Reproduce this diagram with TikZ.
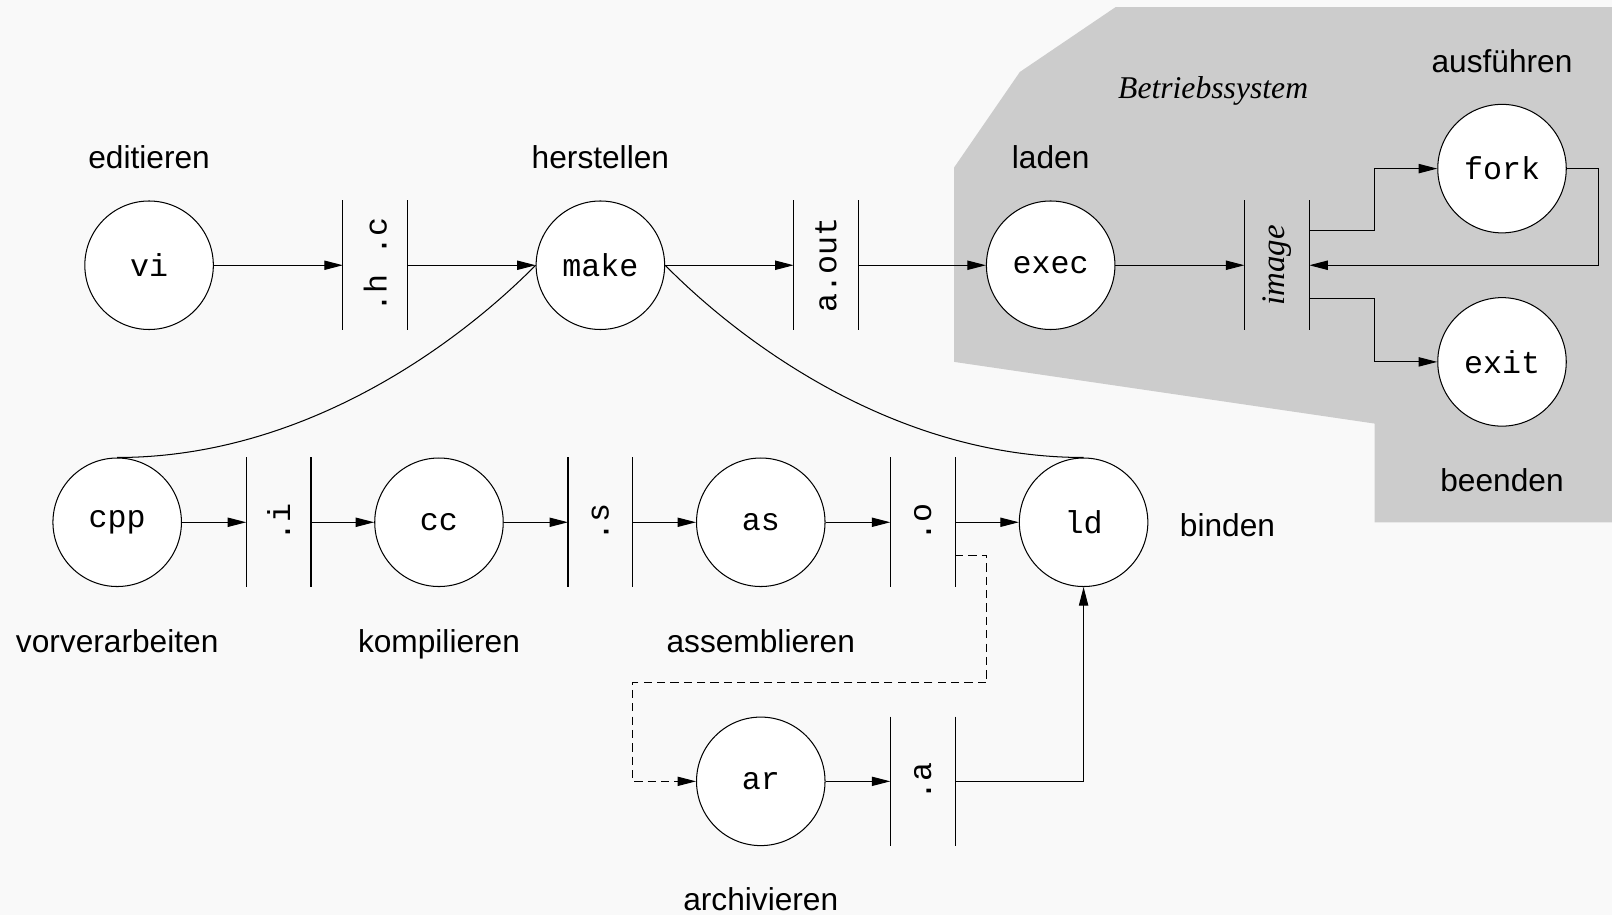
\documentclass[tikz,border=0pt]{standalone}
\usepackage{fontspec}
\usepackage{graphicx}
\setmainfont{Liberation Sans}
\setmonofont{Liberation Mono}
\newfontfamily\timesfont{Liberation Serif}
\usetikzlibrary{arrows.meta}
\definecolor{bgcol}{RGB}{249,249,249}
\definecolor{osgray}{RGB}{204,204,204}
\begin{document}
\begin{tikzpicture}[x=0.5pt,y=-0.5pt,line width=0.5pt,
  every node/.style={font=\fontsize{15.4}{18}\selectfont},
  lbl/.style={text height=11pt,text depth=3.2pt,inner sep=0pt,yshift=-1.5pt},
  proc/.style={circle,draw,fill=white,minimum size=62.5pt,inner sep=0pt,font=\fontsize{15.4}{18}\selectfont\ttfamily},
  store/.style={rectangle,minimum width=31pt,minimum height=62.5pt,inner sep=0pt,font=\fontsize{15.4}{18}\selectfont\ttfamily},
  arr/.style={-{Triangle[length=9pt,width=4.5pt]}},
  dsh/.style={dash pattern=on 4pt off 2.5pt}]
\fill[bgcol] (0,0) rectangle (1568,890);
\useasboundingbox (0,0) rectangle (1568,890);
\fill[osgray] (1085,7) -- (1568,7) -- (1568,508) -- (1337,508) -- (1337,412) -- (928,352) -- (928,163) -- (992,70) -- cycle;

% top row
\node[proc] (vi) at (145,258) {vi};
\node[store] (hc) at (365,258) {\rotatebox{90}{.h .c}};
\node[proc] (make) at (584,258) {make};
\node[store] (aout) at (803.5,258) {\rotatebox{90}{a.out}};
\node[proc] (exec) at (1022,258) {exec};
\node[store,font=\fontsize{16}{18}\selectfont\timesfont\itshape] (img) at (1242,258) {\rotatebox{90}{image}};
\node[proc] (fork) at (1461,164) {fork};
\node[proc] (exit) at (1461,352) {exit};

% second row
\node[proc] (cpp) at (114,508) {cpp};
\node[store] (fi) at (271,508) {\rotatebox{90}{.i}};
\node[proc] (cc) at (427,508) {cc};
\node[store] (fs) at (584,508) {\rotatebox{90}{.s}};
\node[proc] (as) at (740,508) {as};
\node[store] (fo) at (897.5,508) {\rotatebox{90}{.o}};
\node[proc] (ld) at (1054,508) {ld};

% third row
\node[proc] (ar) at (740,760) {ar};
\node[store] (fa) at (897.5,760) {\rotatebox{90}{.a}};

\foreach \n in {hc,aout,img,fi,fs,fo,fa}
  \draw (\n.north west) -- (\n.south west) (\n.north east) -- (\n.south east);

% labels
\node[lbl] (t1) at (145,153) {editieren};
\node[lbl] (t2) at (584,153) {herstellen};
\node[lbl] (t3) at (1022,153) {laden};
\node[lbl] (t4) at (1461,60) {ausführen};
\node[lbl,font=\fontsize{15.4}{18}\selectfont\timesfont\itshape] (t5) at (1180,85) {Betriebssystem};
\node[lbl] (t6) at (1461,467) {beenden};
\node[lbl] (t7) at (1194,511) {binden};
\node[lbl] (t8) at (114,624) {vorverarbeiten};
\node[lbl] (t9) at (427,624) {kompilieren};
\node[lbl] (t10) at (740,624) {assemblieren};
\node[lbl] (t11) at (740,875) {archivieren};

% connectors
\draw[arr] (vi) -- (hc.west);
\draw[arr] (hc.east) -- (make.west);
\draw[arr] (make.east) -- (aout.west);
\draw[arr] (aout.east) -- (exec.west);
\draw[arr] (exec) -- (img.west);
\draw[arr] ([yshift=17pt]img.east) -- ++(63,0) |- (fork.west);
\draw[arr] (fork.east) -- ++(31,0) |- (img.east);
\draw[arr] ([yshift=-16pt]img.east) -- ++(63,0) |- (exit.west);

\draw[arr] (cpp) -- (fi.west);
\draw[arr] (fi.east) -- (cc.west);
\draw[arr] (cc) -- (fs.west);
\draw[arr] (fs.east) -- (as.west);
\draw[arr] (as) -- (fo.west);
\draw[arr] (fo.east) -- (ld.west);

\draw[arr,dsh] ([yshift=-16pt]fo.east) -- ++(31,0) -- ++(0,124) -- ++(-345,0) |- (ar.west);
\draw[arr] (ar) -- (fa.west);
\draw[arr] (fa.east) -| (ld.south);

\draw (make.west) .. controls (450,330) and (300,445) .. (cpp.north);
\draw (make.east) .. controls (718,330) and (868,445) .. (ld.north);
\end{tikzpicture}
\end{document}
